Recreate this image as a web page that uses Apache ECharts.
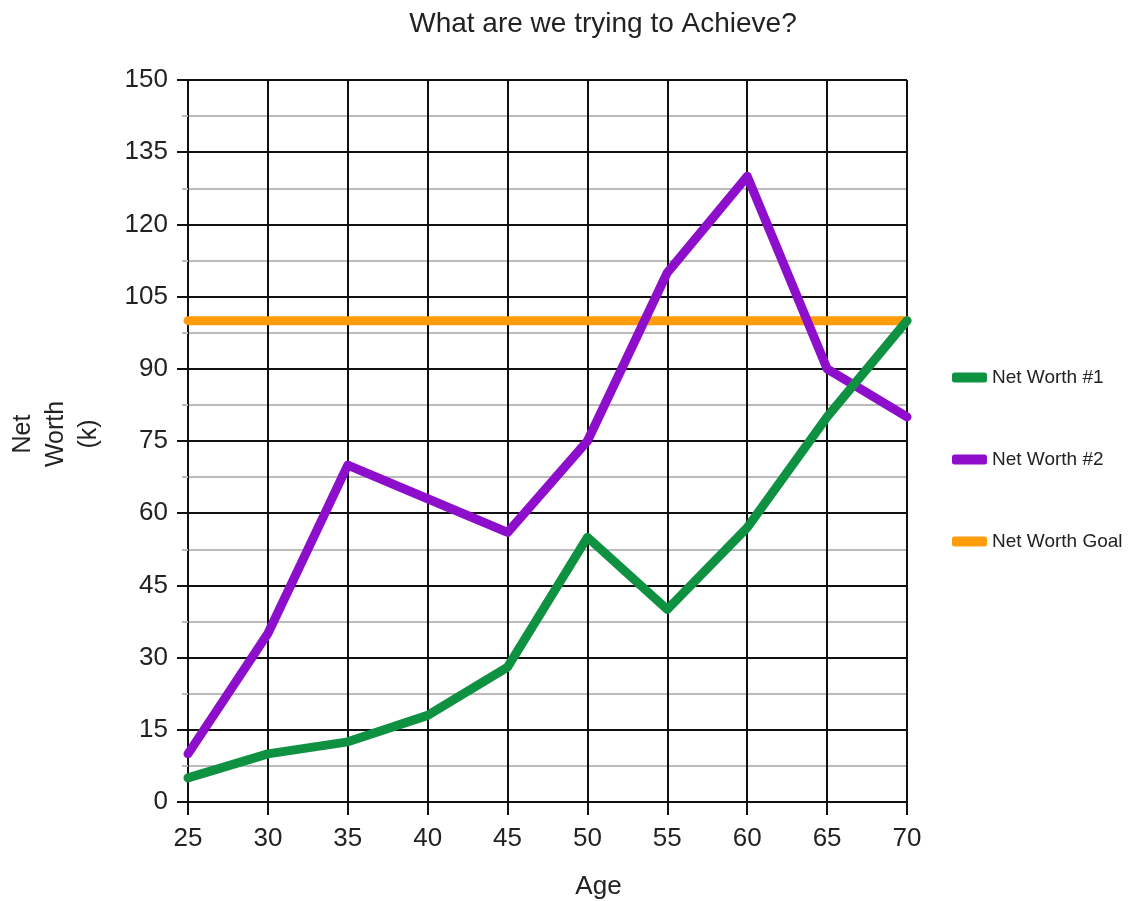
<!DOCTYPE html>
<html>
<head>
<meta charset="utf-8">
<style>
  html, body { margin: 0; padding: 0; background: #fff; }
  #main { width: 1142px; height: 901px; }
</style>
<script src="https://cdn.jsdelivr.net/npm/echarts@6/dist/echarts.min.js"></script>
</head>
<body>
<div id="main"></div>
<script>
// data
var ages = [25, 30, 35, 40, 45, 50, 55, 60, 65, 70];
var worth1 = [5, 10, 12.5, 18, 28, 55, 40, 57, 80, 100];
var worth2 = [10, 35, 70, 63, 56, 75, 110, 130, 90, 80];
var goal = [100, 100, 100, 100, 100, 100, 100, 100, 100, 100];
var seriesNames = ['Net Worth #1', 'Net Worth #2', 'Net Worth Goal'];
var seriesColors = ['#0f9142', '#8e0fcb', '#ff9c0a'];

function pairs(vals) {
    return ages.map(function (a, i) { return [a, vals[i]]; });
}

(function () {
    var myChart = echarts.init(document.getElementById('main'));
    var font = 'Liberation Sans, Arial, sans-serif';
    var lineSeries = [worth1, worth2, goal].map(function (vals, i) {
        return {
            name: seriesNames[i],
            type: 'line',
            data: pairs(vals),
            showSymbol: false,
            z: 10 - i,
            lineStyle: { width: 9, color: seriesColors[i], cap: 'round', join: 'round' },
            itemStyle: { color: seriesColors[i] }
        };
    });
    var option = {
        animation: false,
        title: {
            text: 'What are we trying to Achieve?',
            left: 598,
            textAlign: 'center',
            top: 5,
            textStyle: { fontFamily: font, fontSize: 28, fontWeight: 'normal', color: '#222' }
        },
        legend: {
            orient: 'vertical',
            left: 947,
            top: 363,
            itemGap: 63,
            itemWidth: 35,
            itemHeight: 10,
            icon: 'roundRect',
            textStyle: { fontFamily: font, fontSize: 19, color: '#222' },
            data: seriesNames
        },
        grid: { left: 188, right: 235, top: 80, bottom: 99, outerBoundsMode: 'none' },
        xAxis: {
            type: 'value',
            min: 25, max: 70, interval: 5,
            name: 'Age',
            nameLocation: 'middle',
            nameGap: 72,
            nameTextStyle: { fontFamily: font, fontSize: 26, color: '#222', padding: [0, 0, 0, 102] },
            axisLine: { show: true, lineStyle: { color: '#111', width: 2 } },
            axisTick: { show: true, length: 13, lineStyle: { color: '#111', width: 2 } },
            axisLabel: { fontFamily: font, fontSize: 26, color: '#222', margin: 24 },
            splitLine: { show: true, lineStyle: { color: '#111', width: 2 } }
        },
        yAxis: {
            type: 'value',
            min: 0, max: 150, interval: 15,
            name: 'Net\nWorth\n(k)',
            nameLocation: 'middle',
            nameRotate: 90,
            nameGap: 82,
            nameTextStyle: { fontFamily: font, fontSize: 25, color: '#222', lineHeight: 33, padding: [0, 0, 0, 14] },
            axisLine: { show: true, lineStyle: { color: '#111', width: 2 } },
            axisTick: { show: true, length: 11, lineStyle: { color: '#111', width: 2 } },
            minorTick: { show: true, splitNumber: 2, length: 6, lineStyle: { color: '#bbb', width: 2 } },
            axisLabel: { fontFamily: font, fontSize: 26, color: '#222', margin: 20 },
            splitLine: { show: true, lineStyle: { color: '#111', width: 2 } },
            minorSplitLine: { show: true, lineStyle: { color: '#bbb', width: 2 } }
        },
        series: lineSeries
    };
    myChart.setOption(option);
})();
</script>
</body>
</html>
